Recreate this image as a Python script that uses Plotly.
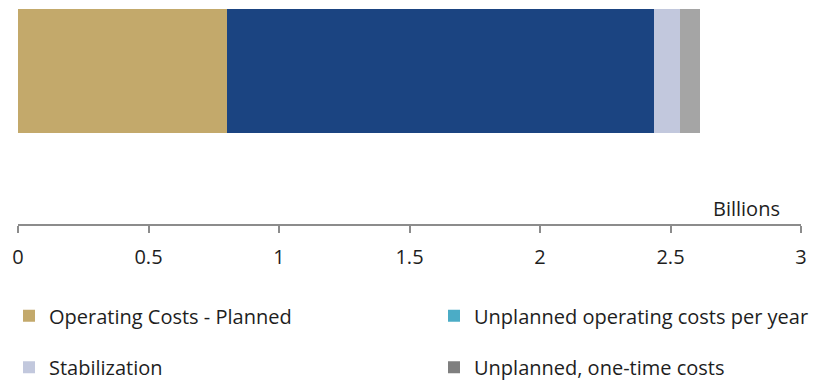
import plotly.graph_objects as go

categories = ["Costs"]
series_names = ["Operating Costs - Planned", "Unplanned operating costs per year",
                "Stabilization", "Unplanned, one-time costs"]
operating_planned = [0.80]
unplanned_per_year = [1.635]
stabilization = [0.10]
unplanned_one_time = [0.078]
tick_vals = [0, 0.5, 1, 1.5, 2, 2.5, 3]
tick_text = ["0", "0.5", "1", "1.5", "2", "2.5", "3"]

bar_colors = ["#C3A96B", "#1B4481", "#C2C8DD", "#A5A5A5"]
legend_colors = ["#C3A96B", "#4BACC6", "#C2C8DD", "#7F7F7F"]
legend_ids = ["legend", "legend2", "legend", "legend2"]
values = [operating_planned, unplanned_per_year, stabilization, unplanned_one_time]

FONT = "Open Sans"
FS = 20
TXT = "#1E1E1E"
fig = go.Figure()
for name, vals, col in zip(series_names, values, bar_colors):
    fig.add_trace(go.Bar(x=vals, y=[0], orientation="h", name=name,
                         marker=dict(color=col, line=dict(width=0)),
                         width=1, showlegend=False, hoverinfo="x+name"))
for i, (name, col, lg) in enumerate(zip(series_names, legend_colors, legend_ids)):
    fig.add_trace(go.Bar(x=[None], y=[None], orientation="h", name=name,
                         marker=dict(color=col, line=dict(width=0)),
                         showlegend=True, legend=lg, legendgroup=f"g{i}",
                         legendrank=i + 1))

legend_common = dict(orientation="v", xref="container", yref="container",
                     yanchor="top", xanchor="left", y=0.2225,
                     traceorder="grouped", tracegroupgap=22.5,
                     bgcolor="rgba(0,0,0,0)", borderwidth=0,
                     font=dict(family=FONT, size=FS, color=TXT),
                     itemclick=False, itemdoubleclick=False)

fig.update_layout(
    width=814, height=381,
    barmode="stack",
    paper_bgcolor="white", plot_bgcolor="white",
    margin=dict(l=17.5, r=13.3, t=9, b=156.5, autoexpand=False),
    font=dict(family=FONT, size=FS, color=TXT),
    xaxis=dict(range=[0, 3], tickvals=tick_vals, ticktext=tick_text,
               showgrid=False, zeroline=False, showline=True,
               linecolor="#8C8C8C", linewidth=1.5, ticks="outside",
               ticklen=7, tickcolor="#8C8C8C", tickwidth=1.5,
               ticklabelstandoff=7, tickfont=dict(family=FONT, size=FS, color=TXT),
               side="bottom", fixedrange=True),
    yaxis=dict(range=[-1.238, 0.5], visible=False, fixedrange=True),
    legend=dict(legend_common, x=9 / 814),
    legend2=dict(legend_common, x=434 / 814),
    annotations=[dict(text="Billions", xref="paper", yref="paper",
                      x=0.9762, y=0.072, xanchor="right", yanchor="middle",
                      showarrow=False,
                      font=dict(family=FONT, size=FS, color=TXT))],
)

fig.write_html("out.html")
